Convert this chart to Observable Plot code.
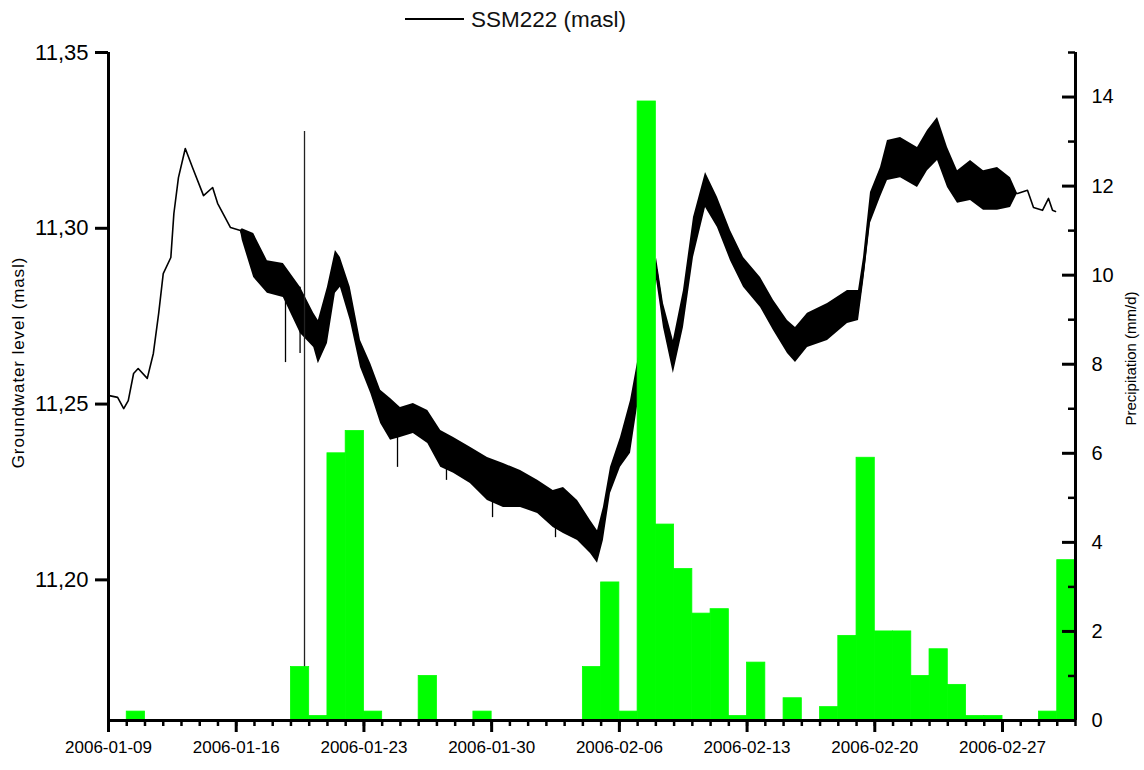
<!DOCTYPE html>
<html><head><meta charset="utf-8">
<script src="https://cdn.jsdelivr.net/npm/d3@7"></script>
<script src="https://cdn.jsdelivr.net/npm/@observablehq/plot@0.6"></script>
<style>
html,body{margin:0;padding:0;background:#fff;font-family:"Liberation Sans",Arial,sans-serif;}
#legend{height:36px;width:1144px;}
#legend svg{display:block}
#chart svg{display:block}
</style></head><body>
<div id="legend"><svg width="1144" height="36"><line x1="405" x2="464" y1="19" y2="19" stroke="#000" stroke-width="2"/><text x="471" y="27" font-size="22.5" fill="#111" font-family="Liberation Sans, Arial, sans-serif">SSM222 (masl)</text></svg></div>
<div id="chart"></div>
<script>
// ---- groundwater level SSM222 (masl): envelope of the logged signal ----
const levelTimes = [
 "2006-01-09 01:00","2006-01-09 12:00","2006-01-09 20:00","2006-01-10 02:00","2006-01-10 09:00",
 "2006-01-10 15:00","2006-01-11 03:00","2006-01-11 11:00","2006-01-11 18:00","2006-01-12 00:00",
 "2006-01-12 10:00","2006-01-12 14:00","2006-01-12 20:00","2006-01-13 05:00","2006-01-13 14:30",
 "2006-01-14 05:00","2006-01-14 17:00","2006-01-14 23:30","2006-01-15 16:30","2006-01-16 05:30",
 "2006-01-16 08:00","2006-01-16 23:00","2006-01-17 17:00","2006-01-18 14:00","2006-01-19 12:30",
 "2006-01-20 06:00","2006-01-20 12:00","2006-01-21 00:00","2006-01-21 10:30","2006-01-21 17:00",
 "2006-01-22 06:00","2006-01-22 19:30","2006-01-23 09:00","2006-01-23 22:00","2006-01-24 11:00",
 "2006-01-25 00:00","2006-01-25 17:00","2006-01-26 12:00","2006-01-27 05:00","2006-01-27 22:00",
 "2006-01-28 20:00","2006-01-29 18:30","2006-01-30 15:30","2006-01-31 14:00","2006-02-01 12:30",
 "2006-02-02 09:00","2006-02-02 22:30","2006-02-03 17:00","2006-02-04 10:00","2006-02-04 19:15",
 "2006-02-05 03:00","2006-02-05 12:20","2006-02-06 01:30","2006-02-06 14:40","2006-02-08 01:00",
 "2006-02-08 10:00","2006-02-08 23:00","2006-02-09 12:20","2006-02-10 01:30","2006-02-10 17:20",
 "2006-02-11 09:00","2006-02-12 02:10","2006-02-12 19:20","2006-02-13 17:40","2006-02-14 10:45",
 "2006-02-15 05:10","2006-02-15 15:40","2006-02-16 07:30","2006-02-17 09:50","2006-02-18 12:05",
 "2006-02-19 02:35","2006-02-19 09:10","2006-02-19 18:20","2006-02-20 07:30","2006-02-20 16:40",
 "2006-02-21 09:50","2006-02-22 08:10","2006-02-22 21:20","2006-02-23 10:30","2006-02-23 23:40",
 "2006-02-24 12:50","2006-02-25 05:55","2006-02-25 23:00","2006-02-26 17:25","2006-02-27 10:30",
 "2006-02-27 19:45","2006-02-28 08:50","2006-02-28 16:45","2006-03-01 04:35","2006-03-01 12:30",
 "2006-03-01 17:45","2006-03-01 21:40"
];
const levelLow = [
 11.2524,11.2519,11.2487,11.2510,11.2587,11.2601,11.2573,11.2644,11.2758,11.2871,
 11.2917,11.3042,11.3144,11.3227,11.3173,11.3093,11.3116,11.3071,11.3002,11.2994,
 11.2965,11.2860,11.2815,11.2803,11.2701,11.2661,11.2615,11.2672,11.2815,11.2832,
 11.2738,11.2604,11.2530,11.2445,11.2397,11.2405,11.2416,11.2388,11.2320,11.2303,
 11.2274,11.2226,11.2206,11.2206,11.2189,11.2149,11.2132,11.2112,11.2075,11.2047,
 11.2112,11.2246,11.2320,11.2360,11.2852,11.2718,11.2587,11.2718,11.2917,11.3059,
 11.3002,11.2908,11.2832,11.2775,11.2709,11.2644,11.2618,11.2661,11.2681,11.2729,
 11.2738,11.2846,11.3014,11.3088,11.3136,11.3144,11.3116,11.3164,11.3193,11.3116,
 11.3071,11.3079,11.3051,11.3051,11.3059,11.3099,11.3108,11.3059,11.3051,11.3085,
 11.3051,11.3048
];
const levelHigh = [
 11.2524,11.2519,11.2487,11.2510,11.2587,11.2601,11.2573,11.2644,11.2758,11.2871,
 11.2917,11.3042,11.3144,11.3227,11.3173,11.3093,11.3116,11.3071,11.3002,11.2994,
 11.2999,11.2985,11.2908,11.2900,11.2832,11.2758,11.2738,11.2832,11.2937,11.2917,
 11.2832,11.2681,11.2615,11.2539,11.2516,11.2490,11.2502,11.2482,11.2425,11.2405,
 11.2377,11.2348,11.2331,11.2311,11.2283,11.2254,11.2263,11.2226,11.2169,11.2140,
 11.2206,11.2320,11.2405,11.2510,11.2914,11.2786,11.2681,11.2823,11.3031,11.3159,
 11.3088,11.2994,11.2917,11.2860,11.2795,11.2738,11.2718,11.2758,11.2786,11.2823,
 11.2823,11.2917,11.3102,11.3173,11.3250,11.3258,11.3230,11.3278,11.3315,11.3230,
 11.3164,11.3193,11.3164,11.3173,11.3144,11.3099,11.3108,11.3059,11.3051,11.3085,
 11.3051,11.3048
];
// isolated downward spikes in the logger record
const spikeTimes = ["2006-01-18 16:50","2006-01-19 12:00","2006-01-24 20:10","2006-01-27 12:35","2006-01-30 01:10","2006-02-02 12:00"];
const spikeLow   = [11.2618,11.2644,11.2320,11.2283,11.2177,11.2120];
const spikeHigh  = [11.2852,11.2832,11.2450,11.2400,11.2300,11.2230];
// vertical marker line
const markerTime = "2006-01-19 17:50";
const markerTop = 11.3275;

// ---- daily precipitation (mm/d) ----
const precipDates = [
 "2006-01-10","2006-01-19","2006-01-20","2006-01-21","2006-01-22","2006-01-23","2006-01-26","2006-01-29",
 "2006-02-04","2006-02-05","2006-02-06","2006-02-07","2006-02-08","2006-02-09","2006-02-10","2006-02-11",
 "2006-02-12","2006-02-13","2006-02-15","2006-02-17","2006-02-18","2006-02-19","2006-02-20","2006-02-21",
 "2006-02-22","2006-02-23","2006-02-24","2006-02-25","2006-02-26","2006-03-01","2006-03-02"
];
const precipValues = [
 0.2,1.2,0.1,6.0,6.5,0.2,1.0,0.2,
 1.2,3.1,0.2,13.9,4.4,3.4,2.4,2.5,
 0.1,1.3,0.5,0.3,1.9,5.9,2.0,2.0,
 1.0,1.6,0.8,0.1,0.1,0.2,3.6
];

// ---- axes ----
const xStart = "2006-01-09", xEnd = "2006-03-03";
const dateTicks = ["2006-01-09","2006-01-16","2006-01-23","2006-01-30","2006-02-06","2006-02-13","2006-02-20","2006-02-27"];
const levelDomain = [11.16, 11.35];
const levelTicks = [11.20, 11.25, 11.30, 11.35];
const precipDomain = [0, 15];
const precipTicks = [0, 2, 4, 6, 8, 10, 12, 14];
const precipMinorTicks = [1, 3, 5, 7, 9, 11, 13, 15];
const leftTitle = "Groundwater level (masl)";
const rightTitle = "Precipitation (mm/d)";

const pt = d3.utcParse("%Y-%m-%d %H:%M");
const pd = d3.utcParse("%Y-%m-%d");
const level = levelTimes.map((t, i) => ({t: pt(t), lo: levelLow[i], hi: levelHigh[i], mid: (levelLow[i] + levelHigh[i]) / 2}));
const spikes = spikeTimes.map((t, i) => ({t: pt(t), lo: spikeLow[i], hi: spikeHigh[i]}));
const precip = precipDates.map((d, i) => ({d0: pd(d), d1: d3.utcDay.offset(pd(d), 1), p: precipValues[i]}));
// precipitation (right axis) mapped onto the level (left axis) scale
const toLevel = p => levelDomain[0] + (p - precipDomain[0]) * (levelDomain[1] - levelDomain[0]) / (precipDomain[1] - precipDomain[0]);
const fromLevel = v => precipDomain[0] + (v - levelDomain[0]) * (precipDomain[1] - precipDomain[0]) / (levelDomain[1] - levelDomain[0]);

const x0 = pd(xStart), x1 = pd(xEnd);
const allDays = d3.utcDay.range(x0, d3.utcDay.offset(x1, 1));
const majorDates = dateTicks.map(pd);
const W = 1144, H = 734, mL = 108, mR = 69, mT = 16, mB = 50;
const innerW = W - mL - mR;

const chart = Plot.plot({
  width: W, height: H,
  marginLeft: mL, marginRight: mR, marginTop: mT, marginBottom: mB,
  style: {fontFamily: "'Liberation Sans', Arial, sans-serif", color: "#000", background: "#fff", overflow: "visible"},
  x: {type: "utc", domain: [x0, x1], axis: null},
  y: {domain: levelDomain, axis: null},
  marks: [
    // groundwater record
    Plot.areaY(level, {x: "t", y1: "lo", y2: "hi", fill: "#000"}),
    Plot.line(level, {x: "t", y: "mid", stroke: "#000", strokeWidth: 1.6}),
    Plot.ruleX(spikes, {x: "t", y1: "lo", y2: "hi", stroke: "#000", strokeWidth: 1.3}),
    Plot.ruleX([pt(markerTime)], {y1: levelDomain[0], y2: markerTop, stroke: "#222", strokeWidth: 1.3}),
    // precipitation bars
    Plot.rectY(precip, {x1: "d0", x2: "d1", y1: levelDomain[0], y2: d => toLevel(d.p), fill: "#00ff00", stroke: "#00ff00", strokeWidth: 0.8}),
    // axis lines
    Plot.ruleY([levelDomain[0]], {stroke: "#000", strokeWidth: 3}),
    Plot.ruleX([x0, x1], {stroke: "#000", strokeWidth: 3}),
    // bottom axis
    Plot.axisX(allDays, {anchor: "bottom", tickSize: 6, strokeWidth: 2.5, tickFormat: () => ""}),
    Plot.axisX(majorDates, {anchor: "bottom", tickSize: 12, strokeWidth: 3, tickPadding: 8, fontSize: 17, tickFormat: d3.utcFormat("%Y-%m-%d")}),
    // left axis
    Plot.axisY(levelTicks, {anchor: "left", tickSize: 13, strokeWidth: 3, tickPadding: 7, fontSize: 22, tickFormat: d => d.toFixed(2).replace(".", ",")}),
    // right axis (precipitation), ticks pointing inward
    Plot.tickY(precipTicks.map(toLevel), {insetLeft: innerW - 13, stroke: "#000", strokeWidth: 3}),
    Plot.tickY(precipMinorTicks.map(toLevel), {insetLeft: innerW - 7, stroke: "#000", strokeWidth: 2.5}),
    Plot.axisY(precipTicks.map(toLevel), {anchor: "right", tickSize: 0, tickPadding: 16, fontSize: 20, tickFormat: v => String(Math.round(fromLevel(v)))}),
    // axis titles
    Plot.text([leftTitle], {frameAnchor: "left", textAnchor: "middle", rotate: -90, dx: -90, dy: -24, fontSize: 17}),
    Plot.text([rightTitle], {frameAnchor: "right", textAnchor: "middle", rotate: -90, dx: 56, dy: -28, fontSize: 15})
  ]
});
d3.select(chart).selectAll("text").filter(function() { return this.textContent === leftTitle; }).attr("letter-spacing", "0.9px");
document.getElementById("chart").appendChild(chart);
</script>
</body></html>
